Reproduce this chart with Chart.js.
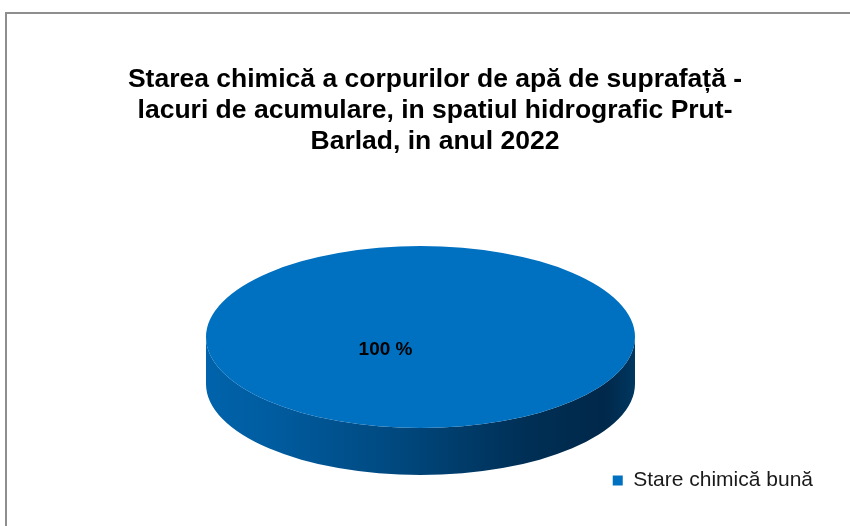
<!DOCTYPE html>
<html>
<head>
<meta charset="utf-8">
<script src="https://cdn.jsdelivr.net/npm/chart.js@4.4.1/dist/chart.umd.min.js"></script>
<style>
  html, body { margin: 0; padding: 0; background: #ffffff; overflow: hidden; }
  #frame { position: absolute; left: 5px; top: 12px; width: 900px; height: 600px;
           border-left: 2px solid #8e8e8e; border-top: 2px solid #8e8e8e; }
  #c { position: absolute; left: 0; top: 0; }
</style>
</head>
<body>
<div id="frame"></div>
<canvas id="c" width="850" height="526"></canvas>
<script>
// ---- data ----
const categories = ['Stare chimică bună'];
const values = [100];
const titleLines = [
  'Starea chimică a corpurilor de apă de suprafață -',
  'lacuri de acumulare, in spatiul hidrografic Prut-',
  'Barlad, in anul 2022'
];

// ---- styles ----
const sliceColors = ['#0070C0'];
const FONT = '"Liberation Sans", Arial, sans-serif';

// 3D pie plugin: projects the library's arcs onto a tilted ellipse and adds a side wall
const pie3d = {
  id: 'pie3d',
  beforeDatasetsDraw(chart, args, o) {
    const ctx = chart.ctx;
    const meta = chart.getDatasetMeta(0);
    const first = meta.data[0];
    if (!first) return;
    const p0 = first.getProps(['x', 'y', 'outerRadius'], true);
    // side walls (visible lower half)
    meta.data.forEach((arc) => {
      const p = arc.getProps(['startAngle', 'endAngle'], true);
      // normalize into [0, 2PI)
      let s = p.startAngle, e = p.endAngle;
      const TWO = Math.PI * 2;
      const segs = [];
      // split arc into pieces and clip to [0, PI]
      for (let k = -2; k <= 2; k++) {
        const a = Math.max(s, k * TWO), b = Math.min(e, k * TWO + Math.PI);
        if (b > a) segs.push([a, b]);
      }
      segs.forEach(([a, b]) => {
        const g = ctx.createLinearGradient(o.cx - o.rx, 0, o.cx + o.rx, 0);
        g.addColorStop(0.00, '#0063ab');
        g.addColorStop(0.15, '#005ca0');
        g.addColorStop(0.45, '#00487e');
        g.addColorStop(0.75, '#002f55');
        g.addColorStop(0.93, '#00284a');
        g.addColorStop(1.00, '#003760');
        ctx.save();
        ctx.beginPath();
        ctx.ellipse(o.cx, o.cy, o.rx, o.ry, 0, a, b, false);
        ctx.lineTo(o.cx + o.rx * Math.cos(b), o.cy + o.depth + o.ry * Math.sin(b));
        ctx.ellipse(o.cx, o.cy + o.depth, o.rx, o.ry, 0, b, a, true);
        ctx.closePath();
        ctx.fillStyle = g;
        ctx.fill();
        ctx.restore();
      });
    });
    ctx.save();
    ctx.translate(o.cx, o.cy);
    ctx.scale(o.rx / p0.outerRadius, o.ry / p0.outerRadius);
    ctx.translate(-p0.x, -p0.y);
  },
  afterDatasetsDraw(chart, args, o) {
    const ctx = chart.ctx;
    ctx.restore();
    const ds = chart.data.datasets[0];
    const total = ds.data.reduce((a, b) => a + b, 0);
    ctx.save();
    ctx.font = 'bold 19px ' + FONT;
    ctx.fillStyle = '#000000';
    ctx.textAlign = 'center';
    ctx.textBaseline = 'middle';
    ds.data.forEach((v) => {
      const pct = Math.round(v / total * 100);
      ctx.fillText(pct + ' %', o.cx + o.labelDx, o.cy + o.labelDy);
    });
    ctx.restore();
  }
};

new Chart(document.getElementById('c'), {
  type: 'pie',
  data: {
    labels: categories,
    datasets: [{
      data: values,
      backgroundColor: sliceColors,
      borderWidth: 0,
      clip: false
    }]
  },
  options: {
    responsive: false,
    devicePixelRatio: 1,
    animation: false,
    events: [],
    layout: { padding: { left: 47, right: 27, top: 54, bottom: 25 } },
    plugins: {
      title: {
        display: true,
        text: titleLines,
        color: '#000000',
        font: { family: FONT, size: 26.5, weight: 'bold', lineHeight: 1.17 },
        padding: { top: 10, bottom: 10 }
      },
      legend: {
        display: true,
        position: 'bottom',
        align: 'end',
        labels: {
          boxWidth: 10,
          boxHeight: 10,
          padding: 10,
          color: '#1a1a1a',
          font: { family: FONT, size: 21 }
        }
      },
      tooltip: { enabled: false },
      pie3d: { cx: 420.5, cy: 337, rx: 214.5, ry: 91, depth: 47, labelDx: -35, labelDy: 12.5 }
    }
  },
  plugins: [pie3d]
});
</script>
</body>
</html>
